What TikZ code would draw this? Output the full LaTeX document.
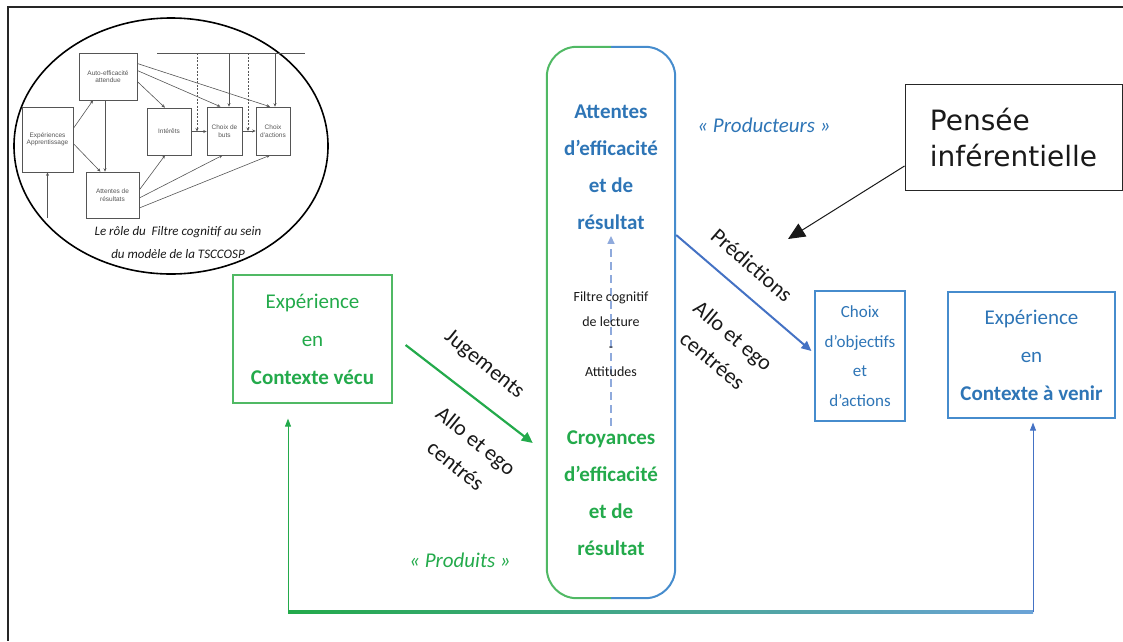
\documentclass[tikz,border=0pt]{standalone}
\usepackage{fontspec}
\setmainfont{Carlito}
\newfontfamily\dejavu{DejaVu Sans}
\newfontfamily\arialf{Liberation Sans}
\usetikzlibrary{arrows.meta,calc}
\definecolor{grn}{RGB}{35,170,75}
\definecolor{grnbox}{RGB}{80,185,100}
\definecolor{blu}{RGB}{46,117,182}
\definecolor{blubox}{RGB}{70,140,205}
\definecolor{arrblue}{RGB}{68,114,196}
\definecolor{lblue}{RGB}{143,170,220}
\definecolor{ink}{RGB}{25,25,25}
\definecolor{sgray}{RGB}{85,85,85}
\tikzset{
  smallbox/.style={draw=sgray, line width=0.6pt, font=\arialf\fontsize{6.5}{7.5}\selectfont, text=sgray, align=center, inner sep=0pt},
  sarrow/.style={draw=sgray, line width=0.6pt, -{Stealth[length=3.5pt,width=3pt]}},
  sline/.style={draw=sgray, line width=0.6pt},
  gbox/.style={draw=grnbox, line width=1.2pt, text=grn, align=center},
  bbox/.style={draw=blubox, line width=1.2pt, text=blu, align=center},
  biglab/.style={text=ink, font=\fontsize{22}{30}\selectfont, align=center, inner sep=0pt},
  garrow/.style={draw=grn, line width=2.2pt, -{Triangle[length=11pt,width=10pt]}},
  barrow/.style={draw=arrblue, line width=2pt, -{Triangle[length=10pt,width=9pt]}},
}
\begin{document}
\begin{tikzpicture}[x=1pt,y=-1pt]
\useasboundingbox (0,0) rectangle (1123,641);
% frame
\draw[line width=2pt, black!85] (1123,7) -- (8,7) -- (8,641);

% ---------- ellipse with small model ----------
\draw[line width=1.6pt] (171,146) ellipse [x radius=157, y radius=128];
\node[smallbox, minimum width=58, minimum height=47] (auto) at (108,76.5) {Auto-efficacité\\attendue};
\node[smallbox, minimum width=51, minimum height=65] (exp) at (47.5,139.5) {Expériences\\Apprentissage};
\node[smallbox, minimum width=44, minimum height=47] (int) at (169,131.5) {Intérêts};
\node[smallbox, minimum width=35, minimum height=48] (buts) at (224.5,131) {Choix de\\buts};
\node[smallbox, minimum width=34, minimum height=48] (act) at (273,131) {Choix\\d’actions};
\node[smallbox, minimum width=53, minimum height=46] (attr) at (112.5,195) {Attentes de\\résultats};
\draw[sarrow] ([yshift=11pt]exp.east) -- ([xshift=-15pt]auto.south);
\draw[sarrow] ([yshift=-4pt]exp.east) -- ([xshift=-12pt]attr.north);
\draw[sarrow] ([xshift=-3pt]auto.south) -- ([xshift=-7.5pt]attr.north);
\draw[sarrow] ([yshift=-5pt]auto.east) -- ([xshift=-4pt]int.north);
\draw[sarrow] ([yshift=6pt]auto.east) -- ([xshift=-4pt]buts.north);
\draw[sarrow] ([yshift=13pt]auto.east) -- ([xshift=-3pt]act.north);
\draw[sarrow] ([yshift=5pt]attr.east) -- ([xshift=-4pt]int.south);
\draw[sarrow] ([yshift=-3pt]attr.east) -- ([xshift=-2pt]buts.south);
\draw[sarrow] ([yshift=-13pt]attr.east) -- ([xshift=-3pt]act.south);
\draw[sarrow] (int.east) -- (int.east -| buts.west);
\draw[sarrow] (buts.east) -- (buts.east -| act.west);
\coordinate (bot) at (47.5,218);
\draw[sarrow] (bot) -- (exp.south);
\coordinate (tl) at (157,53);
\coordinate (tr) at (305,53);
\draw[sline] (tl) -- (tr);
\coordinate (s1) at (229,53);
\coordinate (s2) at (275,53);
\coordinate (d1) at (197,53);
\coordinate (d2) at (248,53);
\draw[sarrow] (s1) -- (s1 |- buts.north);
\draw[sarrow] (s2) -- (s2 |- act.north);
\draw[sarrow, dash pattern=on 2pt off 1.5pt] (d1) -- (d1 |- int.east);
\draw[sarrow, dash pattern=on 2pt off 1.5pt] (d2) -- (d2 |- buts.east);
\node[font=\itshape\fontsize{13}{23}\selectfont, align=center, text=ink] (cap) at (178,243) {Le rôle du\ \ Filtre cognitif au sein\\du modèle de la TSCCOSP};

% ---------- central rounded box ----------
\node[minimum width=128, minimum height=551, inner sep=0pt] (central) at (611,322.5) {};
\draw[draw=grnbox, line width=2pt, rounded corners=30pt] (central.north) -- (central.north west) -- (central.south west) -- (central.south);
\draw[draw=blubox, line width=2pt, rounded corners=30pt] (central.north) -- (central.north east) -- (central.south east) -- (central.south);
\node[text=blu, font=\bfseries\fontsize{21}{37}\selectfont, align=center] (attn) at (611,167) {Attentes\\d’efficacité\\et de\\résultat};
\node[text=grn, font=\bfseries\fontsize{21}{37}\selectfont, align=center] (croy) at (611,493.5) {Croyances\\d’efficacité\\et de\\résultat};
\draw[draw=lblue, line width=1.5pt, dash pattern=on 8pt off 5pt, -{Triangle[length=8pt,width=7pt]}, shorten <=2pt, shorten >=3pt] (croy.north) -- (attn.south);
\node[text=ink, font=\fontsize{14}{25}\selectfont, align=center] (filtre) at (611,334.5) {Filtre cognitif\\de lecture\\-\\Attitudes};

% ---------- boxes ----------
\node[gbox, minimum width=159, minimum height=128, font=\fontsize{21}{38}\selectfont] (vecu) at (312.5,339) {Expérience\\en\\\textbf{Contexte vécu}};
\node[bbox, minimum width=167, minimum height=126, font=\fontsize{21}{38}\selectfont] (venir) at (1031.5,355) {Expérience\\en\\\textbf{Contexte à venir}};
\node[bbox, minimum width=90, minimum height=130, font=\fontsize{17}{29.5}\selectfont] (choix) at (860,356) {Choix\\d’objectifs\\et\\d’actions};
\node[draw=black!85, line width=1pt, minimum width=217, minimum height=106, text=ink, font=\dejavu\fontsize{28}{36}\selectfont, align=left] (pensee) at (1013.5,137) {Pensée\\inférentielle};

% ---------- labels ----------
\node[text=blu, font=\itshape\fontsize{21}{25}\selectfont] (prod) at (764,125) {« Producteurs »};
\node[text=grn, font=\itshape\fontsize{21}{25}\selectfont] (produits) at (460,560) {« Produits »};
\node[biglab, rotate=-39] (jug) at (484,365) {Jugements};
\node[biglab, rotate=-39, font=\fontsize{22}{32}\selectfont] (allo1) at (466,453) {Allo et ego\\centrés};
\node[biglab, rotate=-41] (pred) at (752,265) {Prédictions};
\node[biglab, rotate=-40, font=\fontsize{22}{32}\selectfont] (allo2) at (723,348) {Allo et ego\\centrées};

% ---------- connectors ----------
\draw[garrow] ([shift={(13,6)}]vecu.east) -- ([shift={(-14,120.5)}]central.west);
\draw[barrow] ([shift={(1,-87.5)}]central.east) -- ([shift={(-3,-5)}]choix.west);
\coordinate (ptip) at (788,239);
\draw[draw=ink, line width=1pt, -{Triangle[length=17pt,width=15pt]}] ([yshift=-29pt]pensee.west) -- (ptip);

\coordinate (fbL) at (288,612);
\coordinate (fbR) at (1033,612);
\shade[left color=grn, right color=blubox!80] (288,610.8) rectangle (1033,613.4);
\draw[draw=grn, line width=0.8pt, -{Triangle[length=8pt,width=6pt]}, shorten >=15pt] (fbL) -- (fbL |- vecu.south);
\draw[draw=arrblue, line width=0.8pt, -{Triangle[length=8pt,width=6pt]}, shorten >=4pt] (fbR) -- (fbR |- venir.south);
\end{tikzpicture}
\end{document}
